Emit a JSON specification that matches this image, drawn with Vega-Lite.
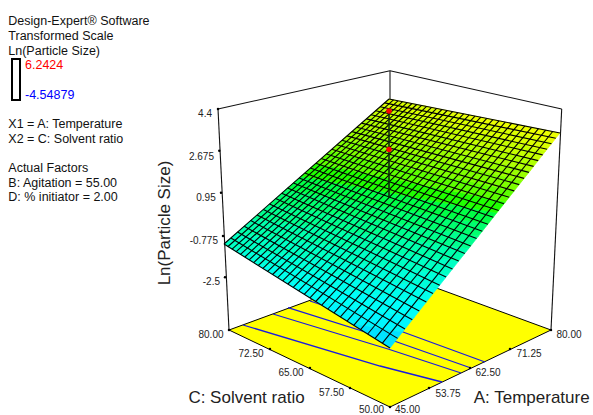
{
"$schema":"https://vega.github.io/schema/vega-lite/v6.json",
"width":593,"height":415,"padding":0,"autosize":{"type":"none"},
"background":"white","config":{"view":{"stroke":null}},
"datasets":{
"floor":[{"o":0,"h":229,"v":330},{"o":1,"h":390,"v":407},{"o":2,"h":551,"v":330},{"o":3,"h":390,"v":271}],
"backPost":[{"h":390,"v":70.7,"h2":390,"v2":271}],
"frame":[{"h":218,"v":109,"h2":229,"v2":330},{"h":561.7,"v":109,"h2":551,"v2":330},{"h":218,"v":109,"h2":390,"v2":70.7},{"h":390,"v":70.7,"h2":561.7,"v2":109}],
"contours":[
{"c":"L1","o":0,"h":243,"v":325},{"c":"L1","o":1,"h":380,"v":366},{"c":"L1","o":2,"h":442,"v":382},
{"c":"L2","o":0,"h":273,"v":314},{"c":"L2","o":1,"h":388,"v":349},{"c":"L2","o":2,"h":461,"v":373},
{"c":"L3","o":0,"h":288,"v":307.7},{"c":"L3","o":1,"h":397,"v":342},{"c":"L3","o":2,"h":471,"v":368},
{"c":"L4","o":0,"h":310,"v":301},{"c":"L4","o":1,"h":403,"v":332},{"c":"L4","o":2,"h":485,"v":362}],
"bands":[
{"b":1,"lnSize":-2.337,"hs":[390,402.5,349.5],"vs":[348,332.1,322.7],"o":[0,1,2]},
{"b":2,"lnSize":-2.013,"hs":[402.5,414.6,314.2,349.5],"vs":[332.1,316.9,300.6,322.7],"o":[0,1,2,3]},
{"b":3,"lnSize":-1.689,"hs":[414.6,426.3,283.4,314.2],"vs":[316.9,302.1,281.2,300.6],"o":[0,1,2,3]},
{"b":4,"lnSize":-1.366,"hs":[426.3,437.5,256,283.4],"vs":[302.1,288,264,281.2],"o":[0,1,2,3]},
{"b":5,"lnSize":-1.042,"hs":[437.5,448.2,231.6,256],"vs":[288,274.4,248.8,264],"o":[0,1,2,3]},
{"b":6,"lnSize":-0.718,"hs":[448.2,458.7,236,224,231.6],"vs":[274.4,261.1,233.5,244,248.8],"o":[0,1,2,3,4]},
{"b":7,"lnSize":-0.394,"hs":[458.7,468.8,253.3,236],"vs":[261.1,248.4,218.3,233.5],"o":[0,1,2,3]},
{"b":8,"lnSize":-0.071,"hs":[468.8,478.5,270,253.3],"vs":[248.4,236.1,203.7,218.3],"o":[0,1,2,3]},
{"b":9,"lnSize":0.253,"hs":[478.5,487.9,285.9,270],"vs":[236.1,224.2,189.6,203.7],"o":[0,1,2,3]},
{"b":10,"lnSize":0.577,"hs":[487.9,496.9,301.2,285.9],"vs":[224.2,212.7,176.3,189.6],"o":[0,1,2,3]},
{"b":11,"lnSize":0.9,"hs":[496.9,505.7,315.9,301.2],"vs":[212.7,201.7,163.3,176.3],"o":[0,1,2,3]},
{"b":12,"lnSize":1.224,"hs":[505.7,514.2,330,315.9],"vs":[201.7,190.9,150.9,163.3],"o":[0,1,2,3]},
{"b":13,"lnSize":1.548,"hs":[514.2,522.5,343.5,330],"vs":[190.9,180.4,139,150.9],"o":[0,1,2,3]},
{"b":14,"lnSize":1.872,"hs":[522.5,530.5,356.5,343.5],"vs":[180.4,170.4,127.6,139],"o":[0,1,2,3]},
{"b":15,"lnSize":2.195,"hs":[530.5,538.2,369.1,356.5],"vs":[170.4,160.6,116.5,127.6],"o":[0,1,2,3]},
{"b":16,"lnSize":2.519,"hs":[538.2,545.6,381.3,369.1],"vs":[160.6,151.1,105.9,116.5],"o":[0,1,2,3]},
{"b":17,"lnSize":2.843,"hs":[545.6,552.9,424.1,389,381.3],"vs":[151.1,141.9,105.9,99,105.9],"o":[0,1,2,3,4]},
{"b":18,"lnSize":3.167,"hs":[552.9,560,424.1],"vs":[141.9,133,105.9],"o":[0,1,2]}
],
"mesh":[
{"h":390,"v":348,"h2":224,"v2":244},{"h":397.6,"v":338.4,"h2":230.9,"v2":238},{"h":405,"v":329,"h2":237.6,"v2":232.1},{"h":412.3,"v":319.8,"h2":244.2,"v2":226.3},{"h":419.3,"v":310.9,"h2":250.7,"v2":220.6},{"h":426.3,"v":302.1,"h2":257.1,"v2":214.9},{"h":433,"v":293.6,"h2":263.4,"v2":209.4},{"h":439.7,"v":285.2,"h2":269.6,"v2":204},{"h":446.1,"v":277,"h2":275.7,"v2":198.6},{"h":452.5,"v":269,"h2":281.7,"v2":193.3},{"h":458.7,"v":261.1,"h2":287.6,"v2":188.1},{"h":464.8,"v":253.4,"h2":293.5,"v2":183},{"h":470.7,"v":245.9,"h2":299.2,"v2":178},{"h":476.6,"v":238.5,"h2":304.8,"v2":173},{"h":482.3,"v":231.3,"h2":310.4,"v2":168.1},{"h":487.9,"v":224.2,"h2":315.9,"v2":163.3},{"h":493.3,"v":217.3,"h2":321.2,"v2":158.6},{"h":498.7,"v":210.5,"h2":326.6,"v2":153.9},{"h":504,"v":203.8,"h2":331.8,"v2":149.3},{"h":509.2,"v":197.3,"h2":336.9,"v2":144.8},{"h":514.2,"v":190.9,"h2":342,"v2":140.3},{"h":519.2,"v":184.6,"h2":347,"v2":135.9},{"h":524.1,"v":178.4,"h2":352,"v2":131.6},{"h":528.9,"v":172.4,"h2":356.8,"v2":127.3},{"h":533.6,"v":166.4,"h2":361.6,"v2":123.1},{"h":538.2,"v":160.6,"h2":366.4,"v2":118.9},{"h":542.7,"v":154.9,"h2":371,"v2":114.8},{"h":547.1,"v":149.2,"h2":375.6,"v2":110.8},{"h":551.5,"v":143.7,"h2":380.2,"v2":106.8},{"h":555.8,"v":138.3,"h2":384.6,"v2":102.9},{"h":560,"v":133,"h2":389,"v2":99},
{"h":382.4,"v":343.2,"h2":552.7,"v2":131.5},{"h":374.9,"v":338.6,"h2":545.6,"v2":130.1},{"h":367.7,"v":334,"h2":538.5,"v2":128.7},{"h":360.6,"v":329.6,"h2":531.6,"v2":127.3},{"h":353.7,"v":325.3,"h2":524.9,"v2":126},{"h":347,"v":321.1,"h2":518.2,"v2":124.7},{"h":340.4,"v":316.9,"h2":511.7,"v2":123.4},{"h":334,"v":312.9,"h2":505.3,"v2":122.1},{"h":327.8,"v":309,"h2":499,"v2":120.8},{"h":321.7,"v":305.2,"h2":492.9,"v2":119.6},{"h":315.7,"v":301.5,"h2":486.8,"v2":118.4},{"h":309.9,"v":297.8,"h2":480.8,"v2":117.2},{"h":304.2,"v":294.3,"h2":475,"v2":116.1},{"h":298.6,"v":290.8,"h2":469.2,"v2":114.9},{"h":293.2,"v":287.4,"h2":463.6,"v2":113.8},{"h":287.9,"v":284,"h2":458,"v2":112.7},{"h":282.7,"v":280.8,"h2":452.6,"v2":111.6},{"h":277.6,"v":277.6,"h2":447.2,"v2":110.5},{"h":272.6,"v":274.5,"h2":441.9,"v2":109.5},{"h":267.7,"v":271.4,"h2":436.7,"v2":108.4},{"h":262.9,"v":268.4,"h2":431.6,"v2":107.4},{"h":258.3,"v":265.5,"h2":426.6,"v2":106.4},{"h":253.7,"v":262.6,"h2":421.6,"v2":105.4},{"h":249.2,"v":259.8,"h2":416.7,"v2":104.5},{"h":244.8,"v":257,"h2":412,"v2":103.5},{"h":240.5,"v":254.3,"h2":407.2,"v2":102.6},{"h":236.2,"v":251.7,"h2":402.6,"v2":101.7},{"h":232.1,"v":249.1,"h2":398,"v2":100.8},{"h":228,"v":246.5,"h2":393.5,"v2":99.9},{"h":224,"v":244,"h2":389,"v2":99}],
"stem":[{"h":389,"v":111,"h2":389,"v2":198}],
"design":[{"h":389,"v":111},{"h":389,"v":149.5}],
"ticks":[{"h":218,"v":109},{"h":219.3,"v":150.7},{"h":221,"v":192.7},{"h":223,"v":236},{"h":225,"v":277.3},{"h":229,"v":330},{"h":270,"v":349},{"h":310,"v":368},{"h":350,"v":388},{"h":390,"v":407},{"h":429,"v":388},{"h":470,"v":368},{"h":510,"v":349},{"h":551,"v":330}],
"tickLabels":[{"t":"80.00","h":211,"v":335},{"t":"72.50","h":251,"v":354.3},{"t":"65.00","h":291,"v":373.3},{"t":"57.50","h":331.5,"v":393.3},{"t":"50.00","h":371.5,"v":409.5},{"t":"45.00","h":407.5,"v":409.5},{"t":"53.75","h":448,"v":393.7},{"t":"62.50","h":488,"v":373.3},{"t":"71.25","h":529,"v":354},{"t":"80.00","h":569,"v":335}],
"zLabels":[{"t":"4.4","h":212,"v":114},{"t":"2.675","h":214,"v":157},{"t":"0.95","h":215.7,"v":198},{"t":"-0.775","h":218,"v":241},{"t":"-2.5","h":220,"v":282}],
"titles":[{"t":"C: Solvent ratio","h":246.5,"v":398},{"t":"A: Temperature","h":531.7,"v":398}],
"zTitle":[{"t":"Ln(Particle Size)","h":165,"v":223}],
"notes":[{"t":"Design-Expert® Software","h":8.3,"v":21},{"t":"Transformed Scale","h":8.3,"v":36},{"t":"Ln(Particle Size)","h":8.3,"v":50.7},{"t":"X1 = A: Temperature","h":8.3,"v":124},{"t":"X2 = C: Solvent ratio","h":8.3,"v":138.7},{"t":"Actual Factors","h":8.3,"v":167.7},{"t":"B: Agitation = 55.00","h":8.3,"v":182.7},{"t":"D: % initiator = 2.00","h":8.3,"v":196.7}],
"legHigh":[{"t":"6.2424","h":25,"v":65}],
"legLow":[{"t":"-4.54879","h":25,"v":95}],
"legBox":[{"h":12,"v":59,"h2":20,"v2":100}]
},
"encoding":{
"x":{"field":"h","type":"quantitative","scale":{"domain":[0,593],"nice":false,"zero":false},"axis":null},
"y":{"field":"v","type":"quantitative","scale":{"domain":[415,0],"nice":false,"zero":false},"axis":null}
},
"layer":[
{"data":{"name":"backPost"},"mark":{"type":"rule","stroke":"#555555","strokeWidth":1.5},"encoding":{"x2":{"field":"h2"},"y2":{"field":"v2"}}},
{"data":{"name":"floor"},"mark":{"type":"line","interpolate":"linear-closed","filled":true,"fill":"#ffff00","stroke":"#000000","strokeWidth":1},"encoding":{"order":{"field":"o"}}},
{"data":{"name":"contours"},"mark":{"type":"line","stroke":"#1a1ae0","strokeWidth":1.3},"encoding":{"detail":{"field":"c"},"order":{"field":"o"}}},
{"data":{"name":"frame"},"mark":{"type":"rule","stroke":"#111111","strokeWidth":1.1},"encoding":{"x2":{"field":"h2"},"y2":{"field":"v2"}}},
{"data":{"name":"bands"},"transform":[{"flatten":["hs","vs","o"]}],
 "mark":{"type":"line","interpolate":"linear-closed","filled":true,"strokeWidth":0.6},
 "encoding":{"x":{"field":"hs","type":"quantitative","scale":{"domain":[0,593],"nice":false,"zero":false},"axis":null},
 "y":{"field":"vs","type":"quantitative","scale":{"domain":[415,0],"nice":false,"zero":false},"axis":null},
 "detail":{"field":"b"},"order":{"field":"o"},
 "color":{"field":"lnSize","type":"quantitative","legend":null,"scale":{"domain":[-4.549,-1.851,0.847,3.544,6.242],"range":["#0000ff","#00ffff","#00ff00","#ffff00","#ff0000"]}},
 "stroke":{"field":"lnSize","type":"quantitative","legend":null,"scale":{"domain":[-4.549,-1.851,0.847,3.544,6.242],"range":["#0000ff","#00ffff","#00ff00","#ffff00","#ff0000"]}}}},
{"data":{"name":"mesh"},"mark":{"type":"rule","stroke":"#000000","strokeWidth":1.1},"encoding":{"x2":{"field":"h2"},"y2":{"field":"v2"}}},
{"data":{"name":"stem"},"mark":{"type":"rule","stroke":"#0a2a0a","strokeWidth":1.6},"encoding":{"x2":{"field":"h2"},"y2":{"field":"v2"}}},
{"data":{"name":"design"},"mark":{"type":"circle","color":"#ff0000","size":30,"opacity":1}},
{"data":{"name":"ticks"},"mark":{"type":"circle","color":"#000000","size":6,"opacity":1}},
{"data":{"name":"tickLabels"},"mark":{"type":"text","font":"Liberation Sans","fontSize":10,"align":"center","baseline":"middle","color":"#222222"},"encoding":{"text":{"field":"t"}}},
{"data":{"name":"zLabels"},"mark":{"type":"text","font":"Liberation Sans","fontSize":10,"align":"right","baseline":"middle","color":"#222222"},"encoding":{"text":{"field":"t"}}},
{"data":{"name":"titles"},"mark":{"type":"text","font":"Liberation Sans","fontSize":17,"align":"center","baseline":"middle","color":"#222222"},"encoding":{"text":{"field":"t"}}},
{"data":{"name":"zTitle"},"mark":{"type":"text","font":"Liberation Sans","fontSize":17,"angle":270,"align":"center","baseline":"middle","color":"#222222"},"encoding":{"text":{"field":"t"}}},
{"data":{"name":"notes"},"mark":{"type":"text","font":"Liberation Sans","fontSize":12.5,"align":"left","baseline":"middle","color":"#111111"},"encoding":{"text":{"field":"t"}}},
{"data":{"name":"legHigh"},"mark":{"type":"text","font":"Liberation Sans","fontSize":12.5,"align":"left","baseline":"middle","color":"#ff0000"},"encoding":{"text":{"field":"t"}}},
{"data":{"name":"legLow"},"mark":{"type":"text","font":"Liberation Sans","fontSize":12.5,"align":"left","baseline":"middle","color":"#0000ff"},"encoding":{"text":{"field":"t"}}},
{"data":{"name":"legBox"},"mark":{"type":"rect","fill":"#ffffff","stroke":"#000000","strokeWidth":2},"encoding":{"x2":{"field":"h2"},"y2":{"field":"v2"}}}
]
}
